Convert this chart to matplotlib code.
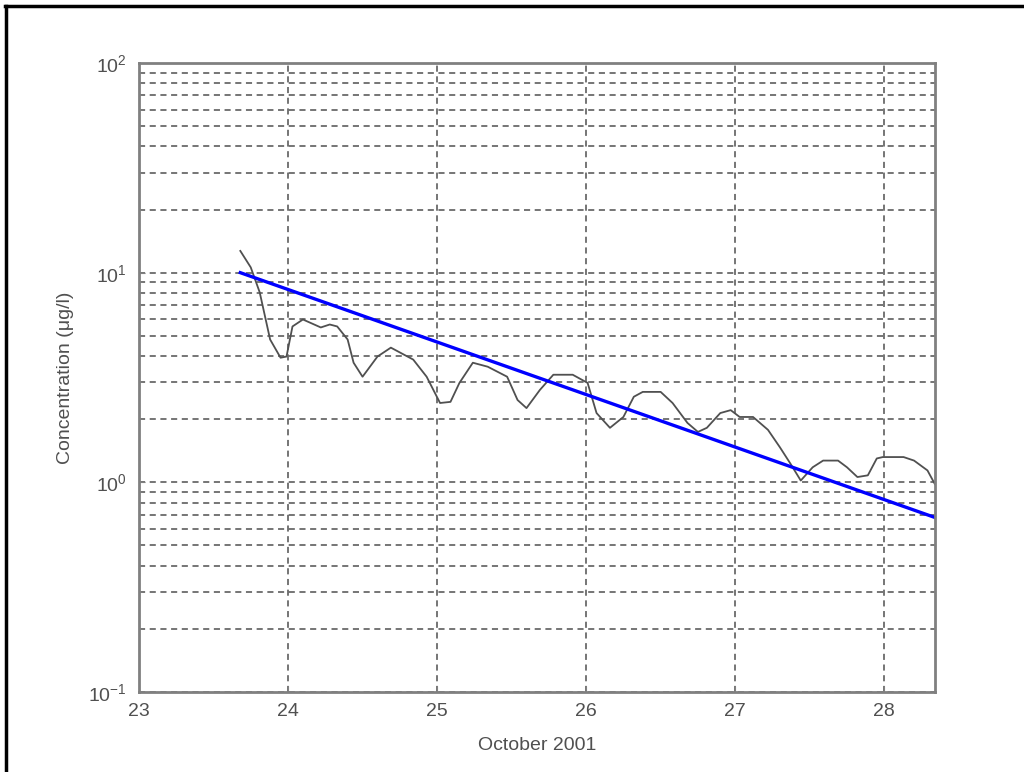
import matplotlib
matplotlib.use("Agg")
import matplotlib.pyplot as plt
from matplotlib.lines import Line2D
import numpy as np

plt.rcParams['font.family'] = ['Liberation Sans', 'DejaVu Sans']
plt.rcParams['mathtext.fontset'] = 'custom'
plt.rcParams['mathtext.rm'] = 'Liberation Sans'

# measured concentration (day of October 2001, ug/l)
days = [23.68, 23.75, 23.81, 23.88, 23.95, 23.99, 24.03, 24.10, 24.22, 24.28,
        24.33, 24.40, 24.44, 24.50, 24.60, 24.69, 24.84, 24.93, 25.02, 25.09,
        25.15, 25.24, 25.34, 25.47, 25.54, 25.60, 25.69, 25.78, 25.91, 26.01,
        26.07, 26.16, 26.25, 26.32, 26.38, 26.50, 26.58, 26.68, 26.75, 26.81,
        26.90, 26.97, 27.03, 27.12, 27.22, 27.30, 27.37, 27.44, 27.52, 27.59,
        27.69, 27.75, 27.82, 27.89, 27.95, 27.99, 28.13, 28.20, 28.29, 28.34]
conc = [12.7, 10.6, 8.06, 4.80, 3.93, 3.98, 5.54, 5.98, 5.48, 5.66,
        5.54, 4.80, 3.72, 3.19, 3.98, 4.39, 3.85, 3.19, 2.39, 2.42,
        2.98, 3.72, 3.56, 3.19, 2.47, 2.26, 2.76, 3.26, 3.26, 2.98,
        2.14, 1.82, 2.05, 2.56, 2.70, 2.70, 2.39, 1.92, 1.74, 1.82,
        2.14, 2.21, 2.05, 2.05, 1.78, 1.47, 1.23, 1.02, 1.18, 1.27,
        1.27, 1.18, 1.06, 1.08, 1.30, 1.32, 1.32, 1.27, 1.14, 0.98]

# exponential fit (straight on log axis)
fit_days = [23.68, 28.34]
fit_conc = [10.0, 0.68]

xticks = [23, 24, 25, 26, 27, 28]

fig = plt.figure(figsize=(10.24, 7.72), dpi=100)
ax = fig.add_axes([0.1357, 0.1036, 0.7773, 0.8148])

ax.plot(days, conc, color='#505050', lw=1.3)
ax.plot(fit_days, fit_conc, color='#0000ff', lw=2.4)

ax.set_yscale('log')
ax.set_xlim(23, 28.34)
ax.set_ylim(0.1, 100)
ax.set_xticks(xticks)
ax.set_xticklabels([str(t) for t in xticks])

ax.grid(True, which='major', axis='x', color='#505050', ls=(0, (4, 3)), lw=1.1)
ax.grid(True, which='both', axis='y', color='#505050', ls=(0, (4, 3)), lw=1.1)

for s in ax.spines.values():
    s.set_color('#808080')
    s.set_linewidth(2)

ax.tick_params(which='both', direction='in', colors='#808080', labelcolor='#505050',
               labelsize=14, length=4)
ax.tick_params(which='minor', length=2)
ax.tick_params(axis='x', pad=8)
ax.tick_params(axis='y', pad=9)

ax.set_xlabel('October 2001', color='#505050', fontsize=14, labelpad=12)
ax.set_ylabel('Concentration (\u03bcg/l)', color='#505050', fontsize=14, labelpad=10)

# outer frame lines (top and left)
fig.add_artist(Line2D([0.005, 1.0], [0.9925, 0.9925], color='black', lw=2.5,
                      transform=fig.transFigure))
fig.add_artist(Line2D([0.0055, 0.0055], [0.0, 0.9925], color='black', lw=2.5,
                      transform=fig.transFigure))

fig.savefig('out.png', dpi=100, facecolor='white')
